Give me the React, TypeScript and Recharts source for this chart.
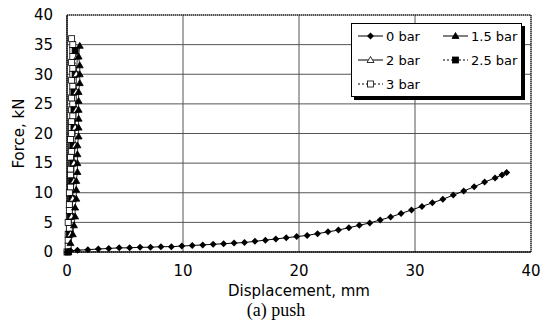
import { FC } from "react";
import { ComposedChart, Line, XAxis, YAxis, CartesianGrid, ReferenceArea } from "recharts";

interface pt {
    x: number,
    y: number,
}

const seriesNames: string[] = ["0 bar", "1.5 bar", "2 bar", "2.5 bar", "3 bar"];
const xTicks: number[] = [0, 10, 20, 30, 40];
const yTicks: number[] = [0, 5, 10, 15, 20, 25, 30, 35, 40];

const x0bar: number[] = [0, 0.3, 0.9, 1.8, 2.7, 3.6, 4.5, 5.4, 6.3, 7.2, 8.1, 9.0, 9.9, 10.8, 11.7, 12.6, 13.5, 14.4, 15.3, 16.2, 17.1, 18.0, 18.9, 19.8, 20.7, 21.6, 22.5, 23.4, 24.3, 25.2, 26.1, 27.0, 27.9, 28.8, 29.7, 30.6, 31.5, 32.4, 33.3, 34.2, 35.1, 36.0, 36.9, 37.5, 37.9];
const y0bar: number[] = [0, 0.2, 0.3, 0.4, 0.5, 0.6, 0.7, 0.7, 0.8, 0.8, 0.9, 0.9, 1.0, 1.1, 1.2, 1.3, 1.4, 1.5, 1.6, 1.8, 2.0, 2.2, 2.4, 2.6, 2.8, 3.1, 3.4, 3.7, 4.1, 4.5, 4.9, 5.4, 5.9, 6.5, 7.1, 7.7, 8.3, 8.9, 9.6, 10.3, 11.0, 11.8, 12.5, 13.0, 13.4];

const x15bar: number[] = [0.1, 0.3, 0.5, 0.6, 0.7, 0.7, 0.8, 0.8, 0.8, 0.9, 0.9, 0.9, 0.9, 1.0, 1.0, 1.0, 1.0, 1.0, 1.0, 1.1, 1.1, 1.1, 1.0, 1.1];
const y15bar: number[] = [0, 1.5, 3, 4.5, 6, 7.5, 9, 10.5, 12, 13.5, 15, 16.5, 18, 19.5, 21, 22.5, 24, 25.5, 27, 28.5, 30, 31.5, 33, 34.8];

const x2bar: number[] = [0.1, 0.3, 0.4, 0.5, 0.6, 0.6, 0.7, 0.7, 0.8, 0.8, 0.8, 0.9];
const y2bar: number[] = [0, 3, 6, 9, 12, 15, 18, 21, 24, 27, 30, 33];

const x25bar: number[] = [0.1, 0.2, 0.3, 0.4, 0.4, 0.5, 0.5, 0.6, 0.6, 0.6, 0.7, 0.7];
const y25bar: number[] = [0, 3, 6, 9, 12, 15, 18, 21, 24, 27, 30, 34];

const x3bar: number[] = [0.0, 0.1, 0.1, 0.1, 0.2, 0.1, 0.2, 0.2, 0.2, 0.3, 0.2, 0.3, 0.3, 0.3, 0.3, 0.4, 0.3, 0.4, 0.4, 0.3, 0.4, 0.4, 0.4, 0.5, 0.4, 0.5, 0.4, 0.5, 0.5, 0.4, 0.5, 0.5, 0.4, 0.5, 0.5, 0.5, 0.4];
const y3bar: number[] = [0, 1, 2, 3, 4, 5, 6, 7, 8, 9, 10, 11, 12, 13, 14, 15, 16, 17, 18, 19, 20, 21, 22, 23, 24, 25, 26, 27, 28, 29, 30, 31, 32, 33, 34, 35, 36];

const zip = (xs: number[], ys: number[]): pt[] => xs.map((x, i) => ({ x, y: ys[i] }));

const marker = (kind: string) => (props: any) => {
    const { cx, cy, index } = props;
    if (cx == null || cy == null) return <g key={index} />;
    if (kind === "diamond")
        return <polygon key={index} points={`${cx},${cy - 3.5} ${cx + 3.5},${cy} ${cx},${cy + 3.5} ${cx - 3.5},${cy}`} fill="#000" />;
    if (kind === "tri" || kind === "triOpen")
        return <polygon key={index} points={`${cx},${cy - 3.5} ${cx + 3.5},${cy + 2.5} ${cx - 3.5},${cy + 2.5}`} fill={kind === "tri" ? "#000" : "#fff"} stroke="#000" strokeWidth={0.8} />;
    return <rect key={index} x={cx - 3} y={cy - 3} width={6} height={6} fill={kind === "sq" ? "#000" : "#fff"} stroke="#000" strokeWidth={0.8} />;
};

const Glyph: FC<{ kind: string, dash?: boolean }> = ({ kind, dash }) => {
    const draw: any = marker(kind);
    return (
        <svg width={25} height={10} style={{ marginRight: 3, flexShrink: 0 }}>
            <line x1={0} y1={5} x2={25} y2={5} stroke="#000" strokeWidth={1} strokeDasharray={dash ? "2 2" : undefined} />
            {draw({ cx: 12.5, cy: 5, index: 0 })}
        </svg>
    );
};

const LegendBox: FC = () => {
    const item = (name: string, kind: string, dash?: boolean) => (
        <div style={{ display: "flex", alignItems: "center", height: 24, whiteSpace: "nowrap" }}>
            <Glyph kind={kind} dash={dash} />
            <span>{name}</span>
        </div>
    );
    return (
        <div style={{
            position: "absolute", left: 351, top: 23,
            width: 171, height: 74, boxSizing: "border-box", background: "#fff",
            border: "1px solid #000", boxShadow: "3px 3px 0 #000", padding: "0px 0px 0px 6px",
            fontFamily: "'DejaVu Sans', sans-serif", fontSize: 13, color: "#000",
            display: "grid", gridTemplateColumns: "85px 78px", alignContent: "start",
        }}>
            {item(seriesNames[0], "diamond")}
            {item(seriesNames[1], "tri")}
            {item(seriesNames[2], "triOpen")}
            {item(seriesNames[3], "sq", true)}
            {item(seriesNames[4], "sqOpen", true)}
        </div>
    );
};

const App: FC = () => {
    const font = "'DejaVu Sans', sans-serif";
    const tick = { fontSize: 15, fill: "#000", fontFamily: font };
    return (
        <div style={{ position: "absolute", left: 0, top: 0, width: 543, height: 325, background: "#fff" }}>
            <ComposedChart width={543} height={325} margin={{ top: 15, right: 12, bottom: 28, left: 22 }}>
                <CartesianGrid stroke="#555" strokeWidth={1} />
                <XAxis type="number" dataKey="x" domain={[0, 40]} ticks={xTicks} interval={0} tick={tick} tickLine={false}
                    axisLine={{ stroke: "#000" }} tickMargin={7} height={45}
                    label={{ value: "Displacement, mm", position: "insideBottom", offset: 1, style: { fontSize: 15, fill: "#000", fontFamily: font } }} />
                <YAxis type="number" dataKey="y" domain={[0, 40]} ticks={yTicks} interval={0} tick={tick} tickLine={false}
                    axisLine={{ stroke: "#000" }} tickMargin={8} width={45}
                    label={{ value: "Force, kN", angle: -90, position: "insideLeft", offset: -3, style: { fontSize: 15, fill: "#000", fontFamily: font, textAnchor: "middle" } }} />
                <ReferenceArea x1={0} x2={40} y1={0} y2={40} fill="none" stroke="#000" strokeDasharray="1 1" />
                <Line data={zip(x3bar, y3bar)} dataKey="y" name={seriesNames[4]} stroke="#000" strokeWidth={0.8} strokeDasharray="2 2" dot={marker("sqOpen")} isAnimationActive={false} />
                <Line data={zip(x25bar, y25bar)} dataKey="y" name={seriesNames[3]} stroke="#000" strokeWidth={0.8} strokeDasharray="2 2" dot={marker("sq")} isAnimationActive={false} />
                <Line data={zip(x2bar, y2bar)} dataKey="y" name={seriesNames[2]} stroke="#000" strokeWidth={0.8} dot={marker("triOpen")} isAnimationActive={false} />
                <Line data={zip(x15bar, y15bar)} dataKey="y" name={seriesNames[1]} stroke="#000" strokeWidth={0.8} dot={marker("tri")} isAnimationActive={false} />
                <Line data={zip(x0bar, y0bar)} dataKey="y" name={seriesNames[0]} stroke="#000" strokeWidth={1} dot={marker("diamond")} isAnimationActive={false} />
            </ComposedChart>
            <LegendBox />
            <div style={{ position: "absolute", left: 176, width: 200, top: 300, textAlign: "center", fontFamily: "'Liberation Serif', 'Times New Roman', serif", fontSize: 18, lineHeight: "20px", color: "#000" }}>
                (a) push
            </div>
        </div>
    );
};

export default App;
